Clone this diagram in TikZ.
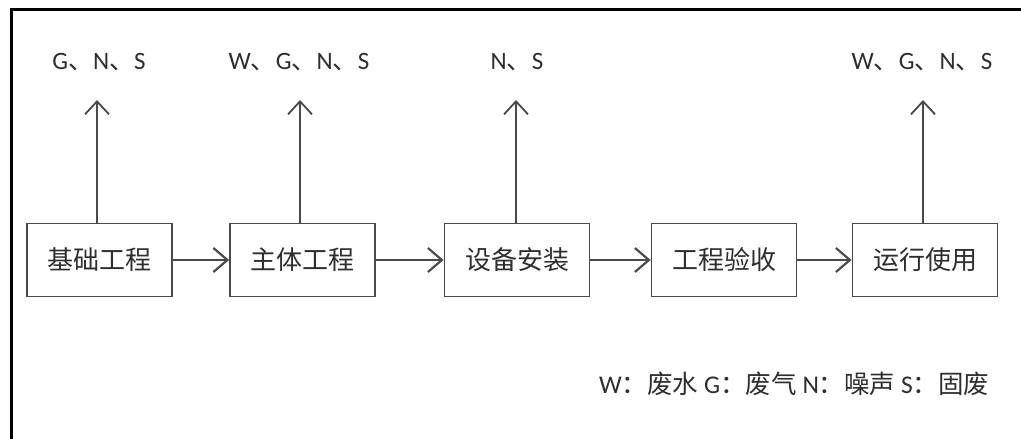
\documentclass[tikz,border=0pt]{standalone}
\usepackage{fontspec}
\setmainfont{Carlito}
\newfontfamily\cjk{Noto Sans CJK SC}
\newcommand\cj[1]{{\cjk #1}}
\usetikzlibrary{arrows.meta}
\definecolor{ink}{HTML}{2E2E2E}
\definecolor{ln}{HTML}{4A4A4A}
\tikzset{
  stage/.style={draw=ln, line width=1.8pt, minimum width=145pt, minimum height=73pt, inner sep=0pt, font=\cjk\fontsize{26}{30}\selectfont, text=ink},
  flow/.style={draw=ln, line width=2.4pt, -{Straight Barb[length=14pt,width=24pt,line width=2.2pt]}},
  emis/.style={draw=ln, line width=1.6pt, -{Straight Barb[length=13pt,width=24pt,line width=1.8pt]}},
  lab/.style={font=\fontsize{25}{30}\selectfont, text=ink, inner sep=0pt},
}
\begin{document}
\begin{tikzpicture}[x=1pt,y=-1pt]
\useasboundingbox (0,0) rectangle (1021,439);
\fill[white] (0,0) rectangle (1021,439);
\draw[black, line width=3pt] (11,439) -- (11,9) -- (1021,9);

\node[stage] (a) at (99.5,260) {基础工程};
\node[stage] (b) at (302.5,260) {主体工程};
\node[stage] (c) at (517,260) {设备安装};
\node[stage] (d) at (724,260) {工程验收};
\node[stage] (e) at (925,260) {运行使用};

\draw[flow] (a) -- (b);
\draw[flow] (b) -- (c);
\draw[flow] (c) -- (d);
\draw[flow] (d) -- (e);

\coordinate (ta) at (97,100);
\coordinate (tb) at (300,100);
\coordinate (tc) at (516,100);
\coordinate (te) at (923,100);
\draw[emis] (a.north -| ta) -- (ta);
\draw[emis] (b.north -| tb) -- (tb);
\draw[emis] (c.north -| tc) -- (tc);
\draw[emis] (e.north -| te) -- (te);

\node[lab] (la) at (99,62) {G\cj{、}N\cj{、}S};
\node[lab] (lb) at (299,62) {W\cj{、}G\cj{、}N\cj{、}S};
\node[lab] (lc) at (517,62) {N\cj{、}S};
\node[lab] (le) at (922,62) {W\cj{、}G\cj{、}N\cj{、}S};

\node[lab, anchor=west, font=\fontsize{25.5}{30}\selectfont] (leg) at (599,384) {W\cj{：}\cj{废水} G\cj{：}\cj{废气} N\cj{：}\cj{噪声} S\cj{：}\cj{固废}};
\end{tikzpicture}
\end{document}
